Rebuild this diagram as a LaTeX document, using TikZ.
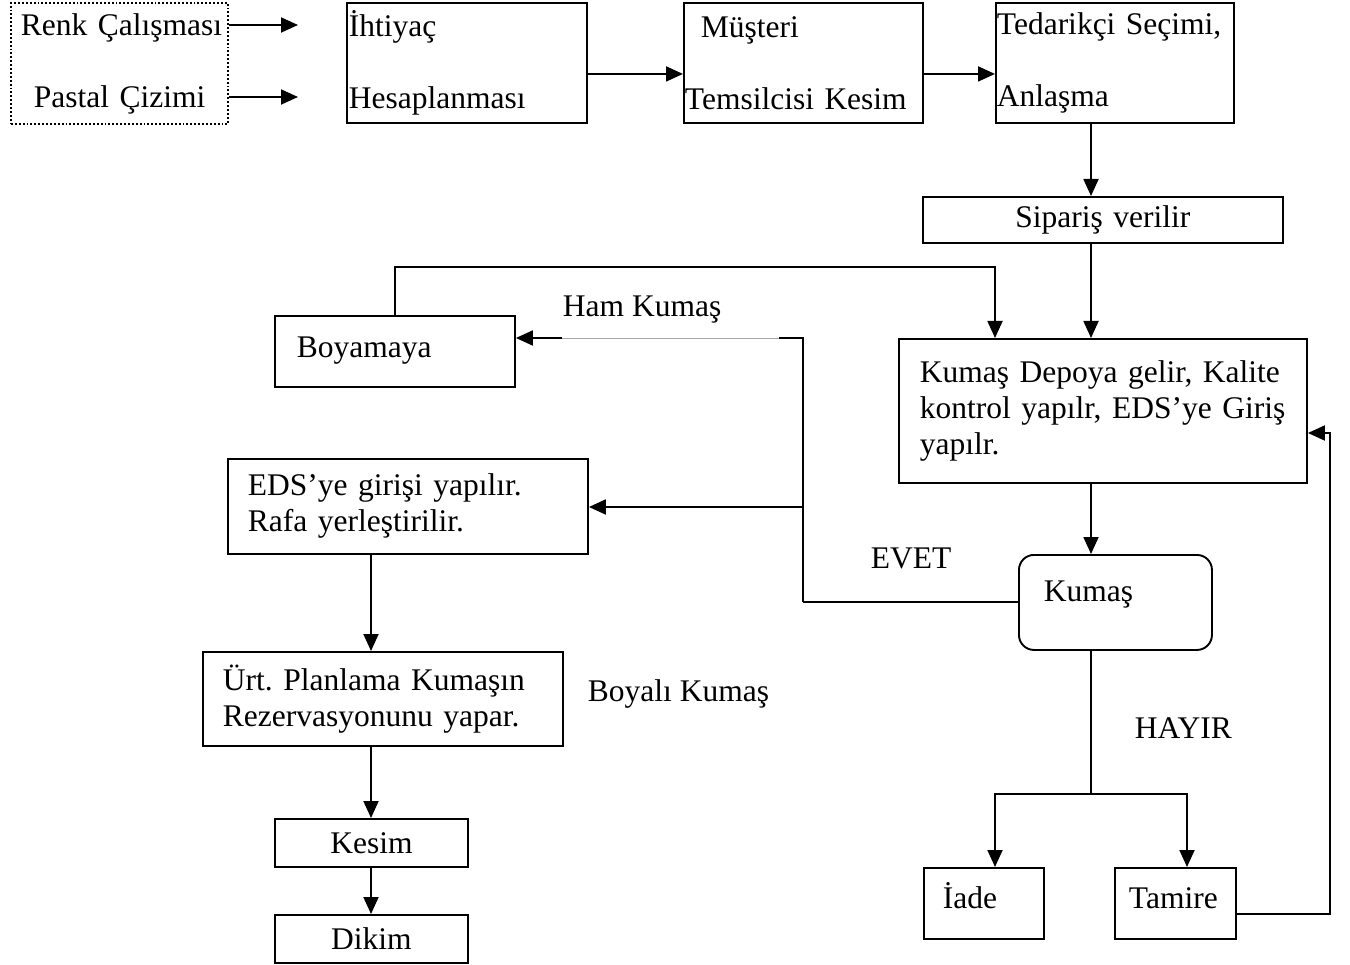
\documentclass[tikz,border=0pt]{standalone}
\usepackage{fontspec}
\setmainfont{Liberation Serif}
\usetikzlibrary{arrows.meta}
\begin{document}
\frenchspacing
\begin{tikzpicture}[x=1pt,y=-1pt,
  font=\fontsize{31.5}{36}\selectfont,
  line width=1.9pt,
  box/.style={draw, rectangle, anchor=north west, align=left, inner ysep=0pt},
  cbox/.style={draw, rectangle, anchor=north west, align=center, inner sep=0pt},
  lbl/.style={anchor=west, inner sep=0pt},
  arr/.style={-{Triangle[length=17pt,width=15pt]}},
  faint/.style={line width=0.8pt, gray!70}]
\useasboundingbox (0,0) rectangle (1350,965);

% --- top row ---
\node[box, dotted, minimum width=217pt, minimum height=121pt, text width=197pt, inner xsep=10pt]
  (src) at (10,2) {\mbox{Renk Çalışması}\\[36pt]\hspace*{13pt}Pastal Çizimi};
\node[box, minimum width=240pt, minimum height=120pt, text width=236pt, inner xsep=2pt]
  (iht) at (346,2) {İhtiyaç\\[36pt]Hesaplanması};
\node[box, minimum width=239pt, minimum height=120pt, text width=237pt, inner xsep=1pt]
  (mus) at (683,2) {\hspace*{16pt}Müşteri\\[36pt]Temsilcisi Kesim};
\node[box, minimum width=238pt, minimum height=120pt, text width=236pt, inner xsep=1pt]
  (ted) at (995,2) {Tedarikçi Seçimi,\\[36pt]Anlaşma};

% --- right column ---
\node[cbox, minimum width=360pt, minimum height=46pt, text width=360pt]
  (sip) at (922,196) {Sipariş verilir};
\node[box, minimum width=408pt, minimum height=144pt, text width=366pt, inner xsep=21pt]
  (dep) at (898,338) {Kumaş Depoya gelir, Kalite\\kontrol yapılr, EDS’ye Giriş\\yapılr.};
\node[box, rounded corners=15pt, minimum width=193pt, minimum height=95pt, text width=143pt, inner xsep=25pt,
  text height=22pt, text depth=24pt]
  (kum) at (1018,554) {Kumaş};
\node[box, minimum width=120pt, minimum height=71pt, text width=82pt, inner xsep=19pt,
  text height=22pt, text depth=12pt]
  (iad) at (923,867) {İade};
\node[box, minimum width=121pt, minimum height=71pt, text width=93pt, inner xsep=14pt,
  text height=22pt, text depth=12pt]
  (tam) at (1114,867) {Tamire};

% --- left column ---
\node[box, minimum width=240pt, minimum height=71pt, text width=196pt, inner xsep=22pt,
  text height=22pt, text depth=10pt]
  (boy) at (274,315) {Boyamaya};
\node[box, minimum width=360pt, minimum height=95pt, text width=320pt, inner xsep=20pt]
  (eds) at (227,458) {EDS’ye girişi yapılır.\\Rafa yerleştirilir.};
\node[box, minimum width=360pt, minimum height=94pt, text width=320pt, inner xsep=20pt]
  (urt) at (202,651) {Ürt. Planlama Kumaşın\\Rezervasyonunu yapar.};
\node[cbox, minimum width=193pt, minimum height=48pt, text width=193pt]
  (kes) at (274,818) {Kesim};
\node[cbox, minimum width=193pt, minimum height=48pt, text width=193pt]
  (dik) at (274,914) {Dikim};

% --- free labels ---
\node[lbl] (ham) at (562,310) {Ham Kumaş};
\node[lbl] (boyali) at (587,694) {Boyalı Kumaş};
\node[lbl] (evet) at (870,558) {EVET};
\node[lbl] (hayir) at (1134,728) {HAYIR};

% --- helper coordinates ---
\coordinate (r1) at (298,25);
\coordinate (r2) at (298,97);
\coordinate (colR) at (1091,0);
\coordinate (bt) at (395,267);
\coordinate (dt) at (995,267);
\coordinate (j1) at (803,338);
\coordinate (j2) at (803,507);
\coordinate (j3) at (803,602);
\coordinate (g1) at (779,338);
\coordinate (g2) at (562,338);
\coordinate (colL) at (371,0);
\coordinate (fork) at (1091,794);
\coordinate (fl) at (995,794);
\coordinate (fr) at (1187,794);
\coordinate (rb) at (1330,914);
\coordinate (rt) at (1330,433);

% --- connectors ---
\draw[arr] (src.east |- r1) -- (r1);
\draw[arr] (src.east |- r2) -- (r2);
\draw[arr] ([yshift=-11pt]iht.east) -- ([yshift=-11pt]mus.west);
\draw[arr] ([yshift=-11pt]mus.east) -- ([yshift=-11pt]ted.west);
\draw[arr] (ted.south -| colR) -- (sip.north -| colR);
\draw[arr] (sip.south -| colR) -- (dep.north -| colR);
\draw[arr] (boy.north -| bt) -- (bt) -- (dt) -- (dep.north -| dt);
\draw[arr] (dep.south -| colR) -- (kum.north -| colR);

% Ham Kumas return line
\draw (j3) -- (j1) -- (g1);
\draw[faint] (g1) -- (g2);
\draw[arr] (g2) -- (boy.east |- g2);
\draw (kum.west |- j3) -- (j3);
\draw[arr] (j2) -- (eds.east |- j2);

\draw[arr] (eds.south -| colL) -- (urt.north -| colL);
\draw[arr] (urt.south -| colL) -- (kes.north -| colL);
\draw[arr] (kes.south -| colL) -- (dik.north -| colL);

% HAYIR branch
\draw (kum.south -| colR) -- (fork);
\draw[arr] (fork) -- (fl) -- (iad.north -| fl);
\draw[arr] (fork) -- (fr) -- (tam.north -| fr);
\draw[arr] (tam.east |- rb) -- (rb) -- (rt) -- (dep.east |- rt);
\end{tikzpicture}
\end{document}
